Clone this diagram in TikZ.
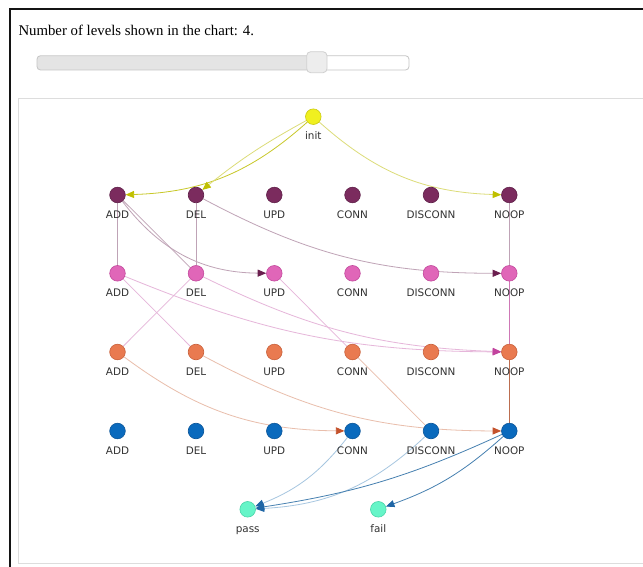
\documentclass[tikz,border=0pt]{standalone}
\usepackage{fontspec}
\setmainfont{Liberation Serif}
\newfontfamily\lblfont{DejaVu Sans}
\usetikzlibrary{arrows.meta,backgrounds}
\definecolor{rAf}{HTML}{7B2B5E}\definecolor{rAd}{HTML}{5F1F48}
\definecolor{rBf}{HTML}{E066B8}\definecolor{rBd}{HTML}{C2489C}
\definecolor{rCf}{HTML}{E97A50}\definecolor{rCd}{HTML}{C9603A}
\definecolor{rDf}{HTML}{0A6ABD}\definecolor{rDd}{HTML}{0A5599}
\definecolor{inf}{HTML}{F0F020}\definecolor{ind}{HTML}{C9C912}
\definecolor{tmf}{HTML}{66F5C8}\definecolor{tmd}{HTML}{48D4A8}
\definecolor{yline}{HTML}{DCDC78}\definecolor{ylineS}{HTML}{C8C828}\definecolor{yarrow}{HTML}{C0C000}
\definecolor{pline}{HTML}{BFA3B6}\definecolor{parrow}{HTML}{6A1E4E}
\definecolor{kline}{HTML}{E6B6DA}\definecolor{karrow}{HTML}{C2439E}
\definecolor{oline}{HTML}{E9BEAC}\definecolor{oarrow}{HTML}{C4522C}
\definecolor{bline}{HTML}{A6C6E0}\definecolor{barrow}{HTML}{1F66A6}\definecolor{bdark}{HTML}{4680B0}
\definecolor{lbltext}{HTML}{333333}
\definecolor{slb}{HTML}{C5C5C5}\definecolor{slf}{HTML}{E4E4E4}
\definecolor{hdf}{HTML}{EDEDED}\definecolor{hdd}{HTML}{D0D0D0}
\definecolor{boxc}{HTML}{DDDDDD}
\tikzset{
  dot/.style={circle, minimum size=15.6pt, inner sep=0pt, line width=0.6pt},
  rowA/.style={fill=rAf, draw=rAd},
  rowB/.style={fill=rBf, draw=rBd},
  rowC/.style={fill=rCf, draw=rCd},
  rowD/.style={fill=rDf, draw=rDd},
  lbl/.style={font=\lblfont\fontsize{10.4}{11}\selectfont, text=lbltext, anchor=base, inner sep=0pt},
  tip/.style={-{Triangle[length=8.5pt,width=7pt,color=#1]}},
  ya/.style={draw=yline, line width=0.8pt, tip=yarrow},
  pa/.style={draw=pline, line width=0.8pt, tip=parrow},
  ka/.style={draw=kline, line width=0.8pt, tip=karrow},
  oa/.style={draw=oline, line width=0.8pt, tip=oarrow},
  ba/.style={draw=bline, line width=0.8pt, tip=barrow},
  plain/.style={line width=0.75pt},
}
\begin{document}
\begin{tikzpicture}[x=1pt,y=1pt]
\useasboundingbox (0,0) rectangle (643,-567);
% frame and chart box
\draw[line width=2pt, black!92] (10.3,-567) -- (10.3,-9.3) -- (643,-9.3);
\draw[line width=1.3pt, boxc] (643,-98.3) -- (18.3,-98.3) -- (18.3,-563.3) -- (643,-563.3);
% heading
\node[anchor=base west, inner sep=0pt, font=\fontsize{14.8}{16}\selectfont] (title) at (18.3,-36) {Number of levels shown in the chart: 4.};
% slider
\begin{scope}
  \clip[rounded corners=3.5pt] (37,-55.7) rectangle (409,-70);
  \fill[white] (37,-55.7) rectangle (409,-70);
  \fill[slf] (37,-55.7) rectangle (317,-70);
\end{scope}
\draw[slb, line width=0.8pt, rounded corners=3.5pt] (37,-55.7) rectangle (409,-70);
\draw[hdd, fill=hdf, line width=0.8pt, rounded corners=4pt] (306.7,-51.7) rectangle (327,-72.7);
% nodes
\node[dot, fill=inf, draw=ind] (init) at (313.3,-116.7) {};
\node[lbl] (linit) at (313.3,-139.5) {init};
\foreach \nm/\px/\tx in {a/117.5/ADD, d/196/DEL, u/274.3/UPD, c/352.5/CONN, x/431/DISCONN, n/509.3/NOOP}{
  \foreach \rr/\py/\st in {1/195/rowA, 2/273.3/rowB, 3/352/rowC, 4/431/rowD}{
    \node[dot, \st] (\nm\rr) at (\px,-\py) {};
    \node[lbl] (l\nm\rr) at (\px,{-\py-23.3}) {\tx};
  }
}
\node[dot, fill=tmf, draw=tmd] (pass) at (247.7,-509.3) {};
\node[lbl] (lpass) at (247.7,-532.6) {pass};
\node[dot, fill=tmf, draw=tmd] (fail) at (378.3,-509.3) {};
\node[lbl] (lfail) at (378.3,-532.6) {fail};
% edges
\begin{pgfonlayer}{background}
\fill[white] (0,0) rectangle (643,-567);
% straight links
\draw[plain, draw=pline] (a1) -- (a2);
\draw[plain, draw=pline] (d1) -- (d2);
\draw[plain, draw=pline] (n1) -- (n2);
\draw[plain, draw=pline] (a1) -- (d2);
\draw[plain, draw=kline] (a2) -- (d3);
\draw[plain, draw=kline] (d2) -- (a3);
\draw[plain, draw=kline] (u2) -- (c3);
\draw[plain, draw=oline] (c3) -- (x4);
\draw[plain, draw={rgb,255:red,206;green,120;blue,182}] (n2) -- (n3);
\draw[plain, draw={rgb,255:red,188;green,110;blue,80}] (n3) -- (n4);
% curved arrows
\draw[ya, draw=ylineS] (init) to[bend left=20] (a1);
\draw[ya] (init) to[bend right=5] (d1);
\draw[ya] (init) to[bend right=20] (n1);
\draw[pa] (a1) to[bend right=26] (u2);
\draw[pa] (d1) to[bend right=14] (n2);
\draw[ka] (a2) to[bend right=11] (n3);
\draw[ka] (d2) to[bend right=12] (n3);
\draw[oa] (a3) to[bend right=18] (c4);
\draw[oa] (d3) to[bend right=14] (n4);
\draw[ba] (c4) to[bend left=15] (pass);
\draw[ba] (x4) to[bend left=20] (pass);
\draw[ba, draw=bdark] (n4) to[bend left=8] (pass);
\draw[ba, draw=bdark] (n4) to[bend left=11] (fail);
\end{pgfonlayer}
\end{tikzpicture}
\end{document}
